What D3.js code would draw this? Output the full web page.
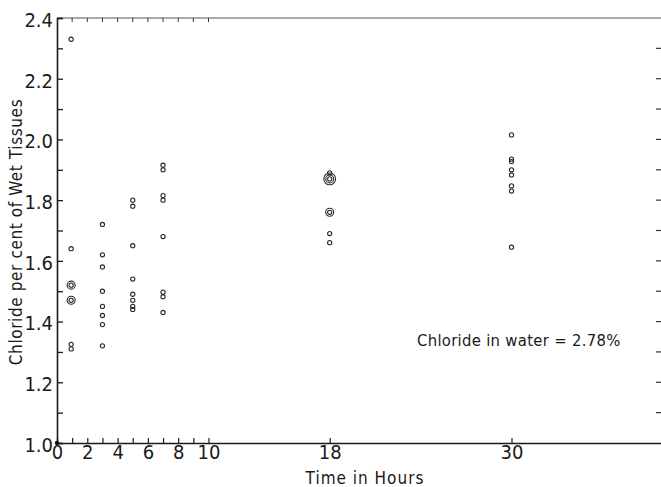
<!DOCTYPE html>
<html><head><meta charset="utf-8">
<script src="https://cdn.jsdelivr.net/npm/d3@7"></script>
<style>
body{margin:0;background:#fff;}
svg{display:block;}
text{font-family:"DejaVu Sans Condensed","Liberation Sans Narrow","DejaVu Sans",sans-serif;fill:#1a1a1a;}
</style></head>
<body>
<svg id="c" width="661" height="487"></svg>
<script>
// ---- data ----
const hours  = [1,1,1,1,1,1,
                3,3,3,3,3,3,3,3,
                5,5,5,5,5,5,5,5,
                7,7,7,7,7,7,7,7,
                18,18,18,18,18,
                30,30,30,30,30,30,30,30];
const chloride = [2.33,1.64,1.52,1.47,1.325,1.31,
                  1.72,1.62,1.58,1.50,1.45,1.42,1.39,1.32,
                  1.80,1.78,1.65,1.54,1.49,1.47,1.45,1.44,
                  1.915,1.90,1.815,1.80,1.68,1.497,1.482,1.43,
                  1.89,1.87,1.76,1.69,1.66,
                  2.015,1.935,1.927,1.90,1.883,1.847,1.83,1.645];
const counts = [1,1,2,2,1,1,
                1,1,1,1,1,1,1,1,
                1,1,1,1,1,1,1,1,
                1,1,1,1,1,1,1,1,
                1,3,2,1,1,
                1,1,1,1,1,1,1,1];
const xTickValues = [0,1,2,3,4,5,6,7,8,9,10,18,30];
const xTickLabels = ["0","","2","","4","","6","","8","","10","18","30"];
const yTickValues = [1.0,1.1,1.2,1.3,1.4,1.5,1.6,1.7,1.8,1.9,2.0,2.1,2.2,2.3,2.4];
const yTickLabels = ["1.0","","1.2","","1.4","","1.6","","1.8","","2.0","","2.2","","2.4"];
const topTickValues = [1,2,3,4,5,6,7,8,9,10];
const xTitle = "Time in Hours";
const yTitle = "Chloride per cent of Wet Tissues";
const note = "Chloride in water = 2.78%";

const svg = d3.select("#c");
const mLeft = 57, mRight = 663, mTop = 18, mBottom = 443;
const x = d3.scaleLinear().domain([0, 40]).range([mLeft, mRight]);
const y = d3.scaleLinear().domain([1.0, 2.4]).range([mBottom, mTop]);
const FF = '"DejaVu Sans Condensed","Liberation Sans Narrow","DejaVu Sans",sans-serif';

// top frame line
svg.append("line").attr("x1",mLeft).attr("x2",661).attr("y1",mTop).attr("y2",mTop)
  .attr("stroke","#555").attr("stroke-width",1.2);

// left axis
const yAxis = d3.axisLeft(y).tickValues(yTickValues)
  .tickFormat((d,i)=>yTickLabels[i]).tickSize(-6).tickPadding(10);
const gy = svg.append("g").attr("transform",`translate(${mLeft},0)`).call(yAxis);
gy.select(".domain").attr("stroke","#1a1a1a").attr("stroke-width",1.6);
gy.selectAll(".tick line").attr("stroke","#1a1a1a").attr("stroke-width",1.3);
gy.selectAll(".tick text").attr("font-size",20).attr("font-weight",300).attr("dy","0.42em").attr("x",-4)
  .style("font-family",FF).attr("fill","#1a1a1a");

// bottom axis
const xAxis = d3.axisBottom(x).tickValues(xTickValues)
  .tickFormat((d,i)=>xTickLabels[i]).tickSize(-5).tickPadding(6).tickSizeOuter(0);
const gx = svg.append("g").attr("transform",`translate(0,${mBottom})`).call(xAxis);
gx.select(".domain").attr("stroke","#1a1a1a").attr("stroke-width",1.6);
gx.selectAll(".tick line").attr("stroke","#1a1a1a").attr("stroke-width",1.2);
gx.selectAll(".tick text").attr("font-size",20).attr("font-weight",300).attr("y",2).attr("dy","0.71em")
  .style("font-family",FF).attr("fill","#1a1a1a");

// top ticks
svg.append("g").selectAll("line").data(topTickValues).join("line")
  .attr("x1",d=>x(d)).attr("x2",d=>x(d)).attr("y1",mTop).attr("y2",mTop+4)
  .attr("stroke","#333").attr("stroke-width",1);

// right ticks (axis line lies just beyond the cropped edge)
svg.append("g").selectAll("line").data(yTickValues.slice(1,-1)).join("line")
  .attr("x1",656).attr("x2",661).attr("y1",d=>y(d)).attr("y2",d=>y(d))
  .attr("stroke","#333").attr("stroke-width",1.2);

// origin dot
svg.append("circle").attr("cx",x(0)).attr("cy",y(1.0)).attr("r",2.2).attr("fill","#111");

// points (concentric rings for coincident observations)
const pts = hours.map((h,i)=>({h, v:chloride[i], n:counts[i]}));
const rings = [];
pts.forEach(p=>{ for(let k=0;k<p.n;k++) rings.push({h:p.h, v:p.v, k}); });
svg.append("g").selectAll("circle").data(rings).join("circle")
  .attr("cx",d=>x(d.h) - (d.h===1 ? 1 : 0)).attr("cy",d=>y(d.v))
  .attr("r",d=>2.1 + d.k*1.9)
  .attr("fill","none").attr("stroke","#2a2a2a").attr("stroke-width",1.1);

// titles
svg.append("text").attr("transform",`translate(22,232) rotate(-90)`)
  .attr("text-anchor","middle").attr("font-size",17).attr("font-weight",300)
  .attr("letter-spacing",0.6).text(yTitle);
svg.append("text").attr("x",365).attr("y",484)
  .attr("text-anchor","middle").attr("font-size",17).attr("font-weight",300)
  .attr("letter-spacing",1.0).text(xTitle);
svg.append("text").attr("x",417).attr("y",346)
  .attr("text-anchor","start").attr("font-size",16.5).attr("font-weight",300)
  .attr("letter-spacing",0.3).text(note);
</script>
</body></html>
